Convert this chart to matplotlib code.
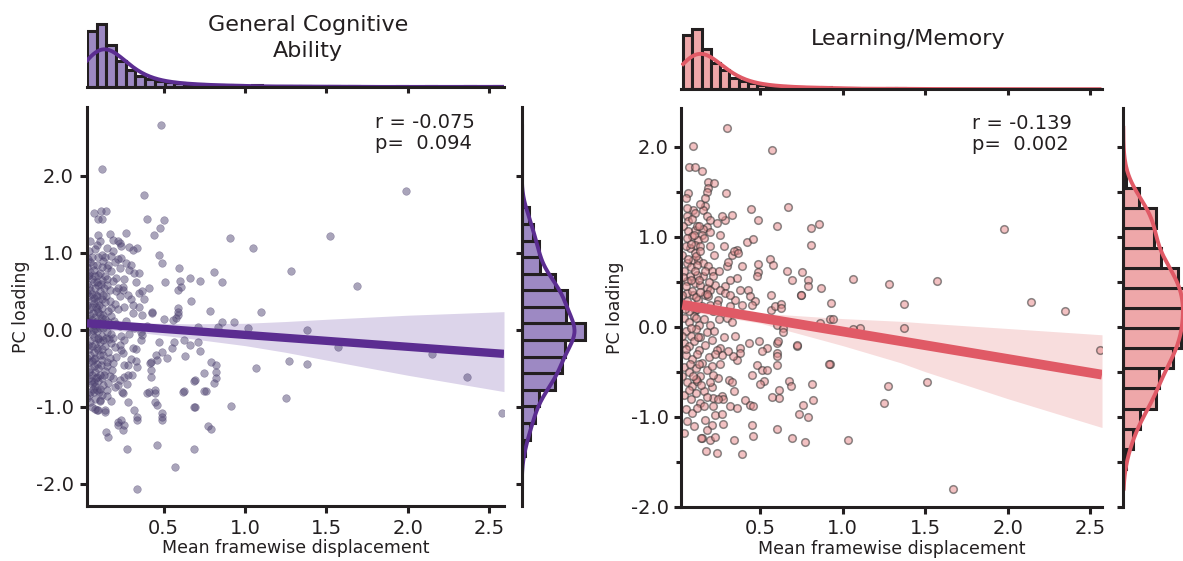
import numpy as np
import matplotlib
matplotlib.use("Agg")
import matplotlib.pyplot as plt
from matplotlib.ticker import FormatStrFormatter, MultipleLocator
import seaborn as sns

# ---------------------------------------------------------------------------
# values
# ---------------------------------------------------------------------------
fd_ticks = [0.5, 1.0, 1.5, 2.0, 2.5]
pc_ticks = [-2.0, -1.0, 0.0, 1.0, 2.0]

# General Cognitive Ability: (mean FD, PC loading)
gca_points = np.array([
    (0.487, 2.66), (0.122, 2.09), (0.377, 1.75), (1.99, 1.80),
    (0.075, 1.52), (0.116, 1.54), (0.145, 1.54), (0.10, 1.44), (0.125, 1.44),
    (0.40, 1.44), (0.50, 1.43), (0.476, 1.33), (0.44, 1.23), (0.27, 1.26),
    (0.17, 1.25), (0.19, 1.17), (0.22, 1.16), (0.23, 1.13), (0.24, 1.09),
    (0.10, 1.23), (0.11, 1.15), (0.09, 1.10), (0.05, 1.15),
    (0.29, 1.08), (0.31, 1.04), (0.34, 1.06),
    (0.24, 0.93), (0.27, 0.87), (0.30, 0.85), (0.23, 0.80), (0.29, 0.78), (0.32, 0.74), (0.35, 0.74),
    (0.47, 0.97), (0.49, 0.87), (0.595, 0.81), (0.66, 0.68), (0.725, 0.64), (0.81, 0.75), (0.857, 0.62),
    (0.91, 1.19), (1.05, 1.06), (1.10, 0.23), (0.51, 0.62), (0.60, 0.63), (0.61, 0.56), (0.59, 0.52),
    (0.41, 0.55), (0.37, 0.50), (0.35, 0.48), (0.25, 0.56), (0.25, 0.52), (0.23, 0.44), (0.21, 0.50),
    (0.668, 0.38), (0.785, 0.25), (0.59, 0.28), (0.59, 0.24), (0.59, 0.19), (0.43, 0.22), (0.37, 0.19),
    (0.504, 0.14), (0.56, 0.13), (0.575, 0.16), (0.86, 0.11), (0.93, 0.10), (0.836, 0.04), (1.016, 0.03),
    (0.713, 0.04), (1.28, 0.76), (1.52, 1.22), (1.687, 0.57), (1.38, 0.0),
    (2.58, -1.08), (2.36, -0.61), (2.15, -0.31), (1.57, -0.22), (1.38, -0.44), (1.27, -0.40), (1.25, -0.88),
    (1.066, -0.50), (0.913, -0.99),
    (0.82, -0.45), (0.82, -0.54), (0.82, -0.63), (0.81, -0.69), (0.79, -0.42), (0.75, -0.56), (0.76, -0.79),
    (0.695, -0.65), (0.695, -1.0), (0.77, -1.25), (0.79, -1.28), (0.684, -1.55), (0.57, -1.78), (0.46, -1.50),
    (0.34, -2.07), (0.276, -1.55),
    (0.49, -1.08), (0.49, -1.13), (0.49, -1.17), (0.46, -0.97), (0.45, -0.93), (0.45, -0.82), (0.45, -0.78),
    (0.41, -0.80), (0.40, -0.82), (0.42, -0.61), (0.42, -0.52), (0.42, -0.41), (0.415, -0.43),
    (0.34, -1.13), (0.34, -1.17), (0.32, -1.04), (0.28, -0.94), (0.25, -0.82), (0.26, -0.61), (0.28, -0.59),
    (0.30, -0.38), (0.33, -0.40), (0.26, -0.46),
    (0.24, -1.17), (0.26, -1.23), (0.22, -1.19), (0.22, -1.23), (0.25, -1.30), (0.145, -1.32), (0.157, -1.39),
    (0.09, -1.04), (0.10, -1.04), (0.14, -1.04), (0.14, -1.06), (0.06, -1.0), (0.065, -0.76), (0.07, -0.80),
    (0.11, -0.92), (0.23, -0.65), (0.22, -0.72), (0.19, -0.62), (0.15, -0.42),
    (0.632, -0.34), (0.724, -0.27), (0.66, -0.19), (0.71, -0.15), (0.626, -0.13),
    (0.566, -0.15), (0.554, -0.24), (0.52, -0.37), (0.472, -0.15), (0.489, -0.28), (0.452, -0.32), (0.458, -0.39),
    (0.617, -0.80), (0.627, -0.79), (0.687, -1.0), (0.75, -0.79), (0.687, -0.66),
    (0.335, -0.48), (0.304, -0.58), (0.274, -0.70), (0.243, -0.81),
    (0.33, -0.25), (0.31, -0.24), (0.36, -0.13), (0.37, -0.06), (0.26, -0.13), (0.23, -0.19), (0.24, -0.26),
    (0.05, -0.93), (0.08, -1.02), (0.11, -0.91), (0.31, 0.22), (0.43, 0.23),
    (0.04, 1.02), (0.06, 0.95), (0.08, 1.05), (0.12, 0.98), (0.15, 1.06), (0.18, 0.96), (0.05, 0.88),
    (0.09, 0.85), (0.13, 0.90), (0.16, 0.84), (0.20, 0.88), (0.07, 0.78), (0.11, 0.74), (0.04, 0.72),
    (0.14, 0.70), (0.18, 0.76), (0.06, 0.66), (0.09, 0.62), (0.12, 0.65), (0.03, 0.60), (0.15, 0.58),
    (0.19, 0.63), (0.08, 0.55), (0.05, 0.52), (0.11, 0.50), (0.13, 0.46), (0.17, 0.52), (0.04, 0.44),
    (0.07, 0.41), (0.10, 0.38), (0.14, 0.36), (0.20, 0.34), (0.03, 0.33), (0.06, 0.30), (0.09, 0.27),
    (0.12, 0.29), (0.16, 0.25), (0.22, 0.27), (0.05, 0.20), (0.08, 0.17), (0.11, 0.21), (0.14, 0.14),
    (0.18, 0.18), (0.04, 0.10), (0.07, 0.06), (0.10, 0.09), (0.13, 0.03), (0.17, 0.06), (0.21, 0.08),
    (0.03, -0.02), (0.06, -0.05), (0.09, -0.01), (0.12, -0.08), (0.15, -0.03), (0.19, -0.10), (0.05, -0.14),
    (0.08, -0.18), (0.11, -0.15), (0.14, -0.21), (0.18, -0.17), (0.04, -0.25), (0.07, -0.29), (0.10, -0.26),
    (0.13, -0.33), (0.16, -0.28), (0.21, -0.35), (0.03, -0.37), (0.06, -0.40), (0.09, -0.44), (0.12, -0.39),
    (0.15, -0.47), (0.19, -0.43), (0.05, -0.51), (0.08, -0.55), (0.11, -0.58), (0.14, -0.53), (0.17, -0.60),
    (0.04, -0.63), (0.07, -0.68), (0.10, -0.66), (0.13, -0.72), (0.16, -0.69), (0.20, -0.74), (0.05, -0.80),
    (0.09, -0.78), (0.12, -0.84), (0.15, -0.86), (0.03, -0.88), (0.08, -0.90), (0.18, -0.92),
    (0.05, 0.75), (0.08, 0.70), (0.10, 0.58), (0.06, 0.47), (0.09, 0.44), (0.12, 0.40), (0.07, 0.35),
    (0.04, 0.27), (0.10, 0.24), (0.13, 0.20), (0.06, 0.13), (0.09, 0.12), (0.12, 0.10), (0.05, 0.04),
    (0.08, 0.01), (0.11, 0.02), (0.07, -0.09), (0.10, -0.11), (0.13, -0.13), (0.06, -0.21), (0.09, -0.23),
    (0.05, -0.33), (0.08, -0.36), (0.11, -0.32), (0.07, -0.47), (0.10, -0.50), (0.06, -0.58), (0.09, -0.61),
    (0.12, -0.62), (0.08, -0.73), (0.11, -0.76), (0.06, -0.70), (0.04, -0.55), (0.03, 0.15), (0.03, 0.48),
    (0.03, 0.82), (0.15, 0.80), (0.17, 0.38), (0.16, 0.10), (0.18, -0.05), (0.20, -0.22), (0.17, -0.37),
    (0.22, 0.55), (0.21, 0.68), (0.23, 0.05), (0.24, -0.08), (0.26, 0.30), (0.27, 0.12), (0.25, -0.30),
    (0.28, -0.45), (0.30, 0.40), (0.32, 0.02), (0.33, 0.62), (0.29, -0.05), (0.35, 0.30),
    (0.14, 0.95), (0.19, 1.02), (0.22, 0.92), (0.26, 0.66), (0.28, 0.45), (0.31, 0.33), (0.38, 0.40),
    (0.40, 0.05), (0.36, -0.02),
    (0.035, 0.70), (0.045, 0.56), (0.055, 0.38), (0.065, 0.22), (0.075, 0.62), (0.085, 0.45),
    (0.095, 0.72), (0.105, 0.32), (0.115, 0.60), (0.125, 0.15), (0.135, 0.55), (0.145, 0.44),
    (0.035, -0.20), (0.045, -0.42), (0.055, -0.66), (0.065, 0.00), (0.075, -0.38), (0.085, -0.62),
    (0.095, -0.12), (0.105, -0.80), (0.115, -0.45), (0.125, -0.25), (0.135, -0.58), (0.145, -0.10),
    (0.035, 0.92), (0.065, 0.85), (0.095, 0.95), (0.125, 0.82), (0.155, 0.66), (0.165, -0.12),
    (0.175, 0.28), (0.185, -0.52), (0.195, 0.12), (0.155, -0.78), (0.045, -0.85), (0.085, 0.30),
])

# Learning/Memory: (mean FD, PC loading)
lm_points = np.array([
    (0.302, 2.21), (0.096, 2.01), (0.572, 1.96), (0.072, 1.77), (0.107, 1.77), (0.147, 1.73),
    (0.183, 1.61), (0.223, 1.60), (0.187, 1.54), (0.177, 1.50), (0.066, 1.49), (0.05, 1.43), (0.294, 1.49),
    (0.17, 1.43), (0.167, 1.34), (0.157, 1.30), (0.177, 1.23), (0.197, 1.19), (0.177, 1.11), (0.157, 1.08),
    (0.147, 1.02), (0.445, 1.31), (0.667, 1.33), (0.33, 1.24), (0.288, 1.18), (0.238, 1.15), (0.268, 1.23),
    (0.49, 1.18), (0.602, 1.12), (0.81, 1.10), (0.86, 1.14), (0.81, 0.91), (1.977, 1.08),
    (0.42, 0.937), (0.46, 0.974), (0.36, 0.856), (0.33, 0.80), (0.34, 0.837), (0.37, 0.82),
    (0.56, 0.752), (0.58, 0.682), (0.49, 0.70), (0.49, 0.604), (0.48, 0.559), (0.393, 0.67), (0.358, 0.54),
    (0.298, 0.67), (0.308, 0.715), (0.665, 0.615), (0.753, 0.607), (0.693, 0.519), (0.79, 0.515),
    (0.79, 0.456), (0.868, 0.43), (0.746, 0.348), (0.564, 0.356), (0.927, 0.259), (1.064, 0.526),
    (0.379, 0.411), (0.43, 0.411), (0.44, 0.344), (0.47, 0.281), (0.45, 0.244), (0.39, 0.244), (0.35, 0.30),
    (0.288, 0.448), (0.318, 0.522), (0.564, 0.189), (0.59, 0.226), (0.63, 0.256), (0.63, 0.207),
    (1.278, 0.47), (1.57, 0.51), (2.14, 0.27), (2.345, 0.17), (1.374, 0.25), (1.374, -0.01), (0.747, 0.35),
    (0.862, 0.04), (0.923, 0.08), (0.943, 0.09), (1.104, -0.01), (1.064, -0.03), (0.60, 0.02), (0.64, -0.02),
    (0.64, -0.06), (0.923, -0.411), (0.727, -0.218), (0.727, -0.20), (0.60, -0.181), (0.61, -0.163),
    (0.60, -0.292), (0.60, -0.33), (0.544, -0.237), (0.51, -0.274), (0.494, -0.163), (0.433, -0.181),
    (0.379, -0.237), (0.379, -0.292), (0.362, -0.367), (0.338, -0.33), (0.308, -0.274), (0.258, -0.237),
    (0.268, -0.311), (0.238, -0.255), (0.48, -0.422), (0.45, -0.533), (0.51, -0.478), (0.544, -0.478),
    (0.60, -0.422), (0.524, -0.607), (0.50, -0.633), (0.677, -0.607), (0.69, -0.655), (0.616, -0.70),
    (0.614, -0.792), (0.57, -0.781), (0.814, -0.633), (0.822, -0.811), (0.758, -0.867), (0.734, -0.967),
    (0.792, -1.007), (0.60, -1.133), (0.693, -1.233), (0.772, -1.278), (1.03, -1.259), (0.45, -1.089),
    (0.459, -1.218), (0.344, -1.255), (0.39, -1.415), (0.238, -1.404), (0.173, -1.385), (0.147, -1.24),
    (0.197, -1.255), (0.228, -1.229), (0.278, -1.078), (0.21, -1.096), (0.167, -1.033), (0.228, -0.978),
    (0.268, -0.967), (0.217, -0.878), (0.318, -0.878), (0.362, -0.904), (0.409, -0.818), (0.439, -0.867),
    (0.455, -0.885), (0.344, -0.718), (0.314, -0.596), (0.328, -0.618), (0.248, -0.57), (0.217, -0.533),
    (0.208, -0.67), (0.217, -0.792), (0.268, -0.774), (0.278, -0.804), (0.248, -0.804),
    (2.555, -0.256), (1.51, -0.62), (1.274, -0.656), (1.25, -0.85), (1.67, -1.80), (0.92, -0.41),
    (0.144, -1.237), (0.177, -1.15),
    (0.096, 1.30), (0.107, 1.263), (0.056, 1.226), (0.066, 1.17), (0.036, 1.115), (0.107, 1.078),
    (0.117, 1.115), (0.066, 1.06), (0.087, 1.004), (0.056, 0.985), (0.127, 0.967), (0.107, 0.911),
    (0.137, 0.893), (0.076, 0.874), (0.107, 0.819), (0.096, 0.744), (0.056, 0.707), (0.127, 0.744),
    (0.157, 0.707), (0.187, 0.67), (0.208, 0.615), (0.217, 0.559), (0.157, 0.559), (0.117, 0.578),
    (0.076, 0.559), (0.056, 0.504), (0.107, 0.485), (0.137, 0.467), (0.177, 0.43), (0.197, 0.411),
    (0.228, 0.467), (0.258, 0.411), (0.167, 0.356), (0.096, 0.356), (0.056, 0.374), (0.127, 0.30),
    (0.187, 0.337), (0.288, 0.374), (0.318, 0.356), (0.248, 0.30), (0.197, 0.244), (0.056, 0.244),
    (0.107, 0.189), (0.217, 0.17), (0.288, 0.17), (0.318, 0.226),
    (0.04, 0.10), (0.07, 0.05), (0.10, 0.12), (0.13, 0.02), (0.16, 0.08), (0.05, -0.05), (0.08, -0.10),
    (0.11, -0.03), (0.14, -0.12), (0.18, -0.06), (0.04, -0.18), (0.07, -0.22), (0.10, -0.16), (0.13, -0.26),
    (0.17, -0.20), (0.21, -0.15), (0.05, -0.32), (0.09, -0.36), (0.12, -0.30), (0.15, -0.40), (0.19, -0.34),
    (0.04, -0.45), (0.07, -0.50), (0.11, -0.46), (0.14, -0.55), (0.18, -0.48), (0.06, -0.62), (0.09, -0.66),
    (0.12, -0.60), (0.16, -0.72), (0.04, -0.76), (0.08, -0.80), (0.11, -0.74), (0.14, -0.85), (0.18, -0.78),
    (0.05, -0.92), (0.09, -0.96), (0.12, -0.90), (0.06, -1.05), (0.10, -1.10), (0.04, -1.18), (0.08, -0.02),
    (0.12, 0.20), (0.06, 0.28), (0.09, 0.40), (0.13, 0.52), (0.04, 0.62), (0.08, 0.66), (0.11, 0.78),
    (0.14, 0.84), (0.05, 0.90), (0.16, 0.98), (0.10, 1.02), (0.13, 1.12), (0.09, 1.20), (0.14, 1.36),
    (0.06, 1.32), (0.03, 0.80), (0.03, 0.35), (0.03, -0.10), (0.03, -0.55), (0.20, 0.02), (0.22, -0.05),
    (0.25, 0.08), (0.23, -0.30), (0.26, -0.42), (0.22, 0.80), (0.25, 0.62), (0.28, 0.90), (0.20, 1.05),
    (0.26, 1.02), (0.30, 0.10), (0.33, 0.05), (0.28, -0.12), (0.35, -0.10), (0.24, 0.25), (0.19, 0.50),
    (0.20, 0.90), (0.18, 0.36), (0.07, 0.17), (0.11, 0.33), (0.15, 0.23), (0.05, 0.45), (0.12, 0.68),
    (0.17, 0.62), (0.08, 0.92), (0.11, -0.58), (0.07, -0.70), (0.13, -0.42), (0.16, -0.88), (0.20, -0.62),
    (0.21, -0.44),
    (0.035, 0.55), (0.045, 0.20), (0.055, -0.25), (0.065, 0.75), (0.075, -0.42), (0.085, 0.52),
    (0.095, -0.55), (0.105, 0.62), (0.115, 0.10), (0.125, -0.12), (0.135, 0.38), (0.145, -0.65),
])

# fitted line and 95% band, read at a few FD values
gca_fit_fd = [0.03, 2.59]
gca_fit_pc = [0.087, -0.31]
gca_ci_fd = [0.03, 0.3, 0.66, 1.0, 1.25, 1.5, 2.0, 2.59]
gca_ci_hi = [0.157, 0.095, 0.08, 0.087, 0.11, 0.139, 0.192, 0.238]
gca_ci_lo = [0.017, -0.02, -0.11, -0.203, -0.29, -0.391, -0.588, -0.80]

lm_fit_fd = [0.03, 2.57]
lm_fit_pc = [0.244, -0.533]
lm_ci_fd = [0.03, 0.5, 1.0, 1.35, 1.5, 2.0, 2.57]
lm_ci_hi = [0.29, 0.15, 0.09, 0.06, 0.04, -0.02, -0.09]
lm_ci_lo = [0.18, 0.04, -0.21, -0.40, -0.50, -0.80, -1.12]

# marginal histogram counts (bins span the data range)
gca_fd_range = (0.03, 2.59)
gca_fd_counts = [110, 124, 82, 52, 34, 22, 16, 12, 9, 7, 6, 5, 4, 3, 3, 3, 1, 3, 0, 0, 2, 1,
                 2, 0, 0, 2, 0, 1, 0, 0, 0, 0, 1, 0, 0, 1, 0, 0, 0, 1, 0, 0, 1]
gca_pc_range = (-2.07, 2.67)
gca_pc_counts = [0, 0, 4, 10, 16, 21, 40, 48, 52, 76, 53, 54, 40, 22, 21, 14, 9, 0, 0, 0, 0, 0]

lm_fd_range = (0.035, 2.555)
lm_fd_counts = [108, 120, 80, 52, 38, 22, 16, 12, 9, 7, 6, 5, 4, 3, 3, 4, 2, 1, 2, 1, 0, 1, 2,
                2, 0, 0, 1, 1, 0, 1, 0, 0, 0, 0, 1, 0, 0, 1, 0, 0, 0, 1, 0, 0, 1]
lm_pc_range = (-1.80, 2.21)
lm_pc_counts = [0, 3, 10, 17, 33, 36, 50, 58, 60, 61, 55, 38, 31, 33, 16, 3, 0, 0]

# ---------------------------------------------------------------------------
W, H = 1183, 561
INK = "#231f20"
plt.rcParams["font.family"] = ["DejaVu Sans"]
plt.rcParams["axes.unicode_minus"] = False

fig = plt.figure(figsize=(W / 100, H / 100), dpi=100)


def px_box(x0, x1, top, bottom):
    return [x0 / W, 1 - bottom / H, (x1 - x0) / W, (bottom - top) / H]


def tick_style(ax, **kw):
    ax.tick_params(which="both", direction="out", width=2.2, color=INK,
                   labelcolor=INK, **kw)


def marginal(ax, rng, counts, orient, face, line, bw):
    counts = np.asarray(counts)
    edges = np.linspace(rng[0], rng[1], len(counts) + 1)
    centers = (edges[:-1] + edges[1:]) / 2
    values = np.repeat(centers, counts)
    kw = dict(bins=edges, kde=True, color=line, facecolor=face, edgecolor=INK,
              linewidth=2.2, line_kws=dict(linewidth=2.8),
              kde_kws=dict(cut=3, clip=rng, bw_adjust=bw), ax=ax)
    if orient == "x":
        sns.histplot(x=values, **kw)
    else:
        sns.histplot(y=values, **kw)
    ax.set_xlabel("")
    ax.set_ylabel("")


def panel(boxes, pts, fit, ci, fd_hist, pc_hist, lims, colors, stats, title, minor):
    joint_box, top_box, side_box = boxes
    xlim, ylim, top_max, side_max = lims
    line_c, band_c, hist_c, dot_face, dot_edge, dot_alpha, dot_lw, fit_lw = colors

    ax = fig.add_axes(px_box(*joint_box))
    ax.fill_between(ci[0], ci[1], ci[2], color=band_c, lw=0, zorder=1)
    ax.scatter(pts[:, 0], pts[:, 1], s=30, facecolor=dot_face, edgecolor=dot_edge,
               linewidth=dot_lw, alpha=dot_alpha, zorder=2)
    ax.plot(fit[0], fit[1], color=line_c, lw=fit_lw, solid_capstyle="butt", zorder=3)
    ax.set_xlim(xlim)
    ax.set_ylim(ylim)
    for s in ("top", "right"):
        ax.spines[s].set_visible(False)
    for s in ("left", "bottom"):
        ax.spines[s].set_linewidth(2.2)
        ax.spines[s].set_color(INK)
    ax.set_xticks(fd_ticks)
    ax.set_yticks(pc_ticks)
    ax.xaxis.set_major_formatter(FormatStrFormatter("%.1f"))
    ax.yaxis.set_major_formatter(FormatStrFormatter("%.1f"))
    if minor:
        ax.yaxis.set_minor_locator(MultipleLocator(0.5))
    tick_style(ax, labelsize=14, length=5, pad=4)
    ax.tick_params(which="minor", length=3.5)
    ax.set_xlabel("Mean framewise displacement", fontsize=12.5, color=INK)
    ax.set_ylabel("PC loading", fontsize=12.5, color=INK)
    ax.xaxis.set_label_coords(0.5, -0.083)
    ax.yaxis.set_label_coords(-0.135, 0.5)
    ax.text(0.692, 0.985, stats, transform=ax.transAxes, ha="left", va="top",
            fontsize=14, color=INK, linespacing=1.15)

    # top marginal: FD distribution
    axt = fig.add_axes(px_box(*top_box))
    marginal(axt, fd_hist[0], fd_hist[1], "x", hist_c, line_c, 1.2)
    axt.set_xlim(xlim)
    axt.set_ylim(0, top_max)
    for s in ("top", "right", "left"):
        axt.spines[s].set_visible(False)
    axt.spines["bottom"].set_linewidth(2.2)
    axt.spines["bottom"].set_color(INK)
    axt.set_xticks(fd_ticks)
    axt.set_xticklabels([])
    axt.set_yticks([])
    tick_style(axt, length=4)

    # side marginal: PC loading distribution
    axs = fig.add_axes(px_box(*side_box))
    marginal(axs, pc_hist[0], pc_hist[1], "y", hist_c, line_c, 1.0)
    axs.set_ylim(ylim)
    axs.set_xlim(0, side_max)
    for s in ("top", "right", "bottom"):
        axs.spines[s].set_visible(False)
    axs.spines["left"].set_linewidth(2.2)
    axs.spines["left"].set_color(INK)
    axs.set_yticks(pc_ticks)
    if minor:
        axs.yaxis.set_minor_locator(MultipleLocator(0.5))
    axs.set_yticklabels([])
    axs.set_xticks([])
    tick_style(axs, length=4)

    for txt, x, y in title:
        fig.text(x / W, 1 - y / H, txt, ha="center", va="baseline", fontsize=16, color=INK)


panel(
    boxes=((86.5, 504, 106.7, 506), (86.5, 504, 8, 87), (521.7, 597, 106.7, 506)),
    pts=gca_points,
    fit=(gca_fit_fd, gca_fit_pc),
    ci=(gca_ci_fd, gca_ci_lo, gca_ci_hi),
    fd_hist=(gca_fd_range, gca_fd_counts),
    pc_hist=(gca_pc_range, gca_pc_counts),
    lims=((0.027, 2.59), (-2.286, 2.90), 156, 90),
    colors=("#5b2d91", "#dcd4ea", "#9d89c3", "#4d4270", "#4d4270", 0.48, 0.4, 6.0),
    stats="r = -0.075\np=  0.094",
    title=[("General Cognitive", 308, 31), ("Ability", 308, 57)],
    minor=False,
)

panel(
    boxes=((681, 1102, 108, 506.7), (681, 1102, 8, 89.3), (1123.3, 1183, 108, 506.7)),
    pts=lm_points,
    fit=(lm_fit_fd, lm_fit_pc),
    ci=(lm_ci_fd, lm_ci_lo, lm_ci_hi),
    fd_hist=(lm_fd_range, lm_fd_counts),
    pc_hist=(lm_pc_range, lm_pc_counts),
    lims=((0.022, 2.57), (-2.0, 2.43), 162, 59.5),
    colors=("#e05a66", "#f8dddd", "#eea7a9", "#e88f90", "#303030", 0.55, 1.1, 7.0),
    stats="r = -0.139\np=  0.002",
    title=[("Learning/Memory", 908, 45)],
    minor=True,
)

fig.savefig("out.png", dpi=100)
